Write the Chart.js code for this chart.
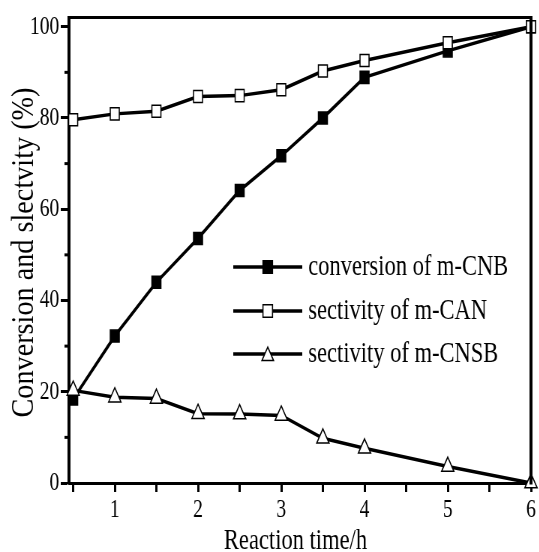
<!DOCTYPE html>
<html>
<head>
<meta charset="utf-8">
<script src="https://cdn.jsdelivr.net/npm/chart.js@4.4.1/dist/chart.umd.min.js"></script>
<style>
html, body { margin: 0; padding: 0; overflow: hidden; background: #fff; width: 539px; height: 552px; }
#wrap { width: 719px; height: 552px; transform: scaleX(0.75); transform-origin: 0 0; }
</style>
</head>
<body>
<div id="wrap"><canvas id="c" width="719" height="552"></canvas></div>
<script>
const times = [0.5, 1, 1.5, 2, 2.5, 3, 3.5, 4, 5, 6];
const conversionCNB = [18.4, 32.2, 44.0, 53.6, 64.1, 71.7, 80.0, 88.9, 94.7, 100];
const selectivityCAN = [79.6, 80.9, 81.5, 84.7, 84.9, 86.2, 90.3, 92.6, 96.5, 100];
const selectivityCNSB = [20.3, 18.8, 18.5, 15.2, 15.1, 14.8, 9.8, 7.6, 3.6, 0];
const seriesNames = ['conversion of m-CNB', 'sectivity of m-CAN', 'sectivity of m-CNSB'];
const xTicks = [0.5, 1, 1.5, 2, 2.5, 3, 3.5, 4, 4.5, 5, 5.5, 6];
const yTicks = [0, 20, 40, 60, 80, 100];
const yMinorTicks = [10, 30, 50, 70, 90];
const xTitle = 'Reaction time/h';
const yTitle = 'Conversion and slectvity (%)';

const FONT = "'Liberation Serif', 'Times New Roman', serif";

function pts(ys) { return times.map((t, i) => ({ x: t, y: ys[i] })); }

function drawMarker(ctx, style, x, y, r, fill) {
  ctx.save();
  ctx.fillStyle = fill;
  ctx.strokeStyle = '#000';
  ctx.lineWidth = 1.5;
  ctx.beginPath();
  if (style === 'rect') {
    const s = Math.SQRT1_2 * r;
    ctx.rect(x - s, y - s, 2 * s, 2 * s);
  } else {
    ctx.moveTo(x, y - r);
    ctx.lineTo(x - r * 0.866, y + r * 0.5);
    ctx.lineTo(x + r * 0.866, y + r * 0.5);
    ctx.closePath();
  }
  ctx.fill();
  ctx.stroke();
  ctx.restore();
}

const extras = {
  id: 'extras',
  afterDraw(chart) {
    const ctx = chart.ctx;
    const a = chart.chartArea;
    const ys = chart.scales.y;
    ctx.save();
    ctx.strokeStyle = '#000';
    // top and right frame
    ctx.lineWidth = 3;
    ctx.beginPath();
    ctx.moveTo(a.left - 2, a.top);
    ctx.lineTo(a.right + 2, a.top);
    ctx.stroke();
    ctx.lineWidth = 4;
    ctx.beginPath();
    ctx.moveTo(a.right, a.top - 1.5);
    ctx.lineTo(a.right, a.bottom + 1.5);
    ctx.stroke();
    // minor y ticks
    ctx.lineWidth = 3;
    yMinorTicks.forEach(v => {
      const py = ys.getPixelForValue(v);
      ctx.beginPath();
      ctx.moveTo(a.left - 6, py);
      ctx.lineTo(a.left, py);
      ctx.stroke();
    });
    // titles
    ctx.fillStyle = '#000';
    ctx.font = '30px ' + FONT;
    ctx.textAlign = 'center';
    ctx.textBaseline = 'alphabetic';
    ctx.fillText(xTitle, (a.left + a.right) / 2 - 6, 549);
    ctx.save();
    ctx.font = '42px ' + FONT;
    const w = ctx.measureText(yTitle).width;
    ctx.translate(44, 252.5);
    ctx.rotate(-Math.PI / 2);
    ctx.scale(330 / w, 1);
    ctx.textAlign = 'center';
    ctx.textBaseline = 'alphabetic';
    ctx.fillText(yTitle, 0, 0);
    ctx.restore();
    // legend
    const rows = [267, 311, 354];
    const styles = [['rect', '#000'], ['rect', '#fff'], ['triangle', '#fff']];
    rows.forEach((ry, i) => {
      ctx.lineWidth = 3.5;
      ctx.beginPath();
      ctx.moveTo(311, ry);
      ctx.lineTo(403, ry);
      ctx.stroke();
      drawMarker(ctx, styles[i][0], 357, ry + (styles[i][0] === 'triangle' ? 2 : 0), 9, styles[i][1]);
      ctx.fillStyle = '#000';
      ctx.font = '30px ' + FONT;
      ctx.textAlign = 'left';
      ctx.textBaseline = 'middle';
      ctx.fillText(seriesNames[i], 411, ry);
    });
    ctx.restore();
  }
};

new Chart(document.getElementById('c'), {
  type: 'line',
  data: {
    datasets: [
      { label: seriesNames[0], data: pts(conversionCNB), borderColor: '#000', borderWidth: 3.5,
        pointStyle: 'rect', pointRadius: 8.5, pointBackgroundColor: '#000', pointBorderColor: '#000', pointBorderWidth: 1.5, order: 3 },
      { label: seriesNames[1], data: pts(selectivityCAN), borderColor: '#000', borderWidth: 3.5,
        pointStyle: 'rect', pointRadius: 8.5, pointBackgroundColor: '#fff', pointBorderColor: '#000', pointBorderWidth: 1.5, order: 2 },
      { label: seriesNames[2], data: pts(selectivityCNSB), borderColor: '#000', borderWidth: 3.5,
        pointStyle: 'triangle', pointRadius: 9.5, pointBackgroundColor: '#fff', pointBorderColor: '#000', pointBorderWidth: 1.5, order: 1 }
    ]
  },
  options: {
    responsive: false,
    animation: false,
    devicePixelRatio: 1,
    clip: false,
    layout: { padding: { top: 16, right: 8, left: 0, bottom: 0 } },
    plugins: { legend: { display: false }, tooltip: { enabled: false } },
    elements: { line: { tension: 0 } },
    scales: {
      x: {
        type: 'linear', min: 0.45, max: 6,
        afterBuildTicks: s => { s.ticks = xTicks.map(v => ({ value: v })); },
        afterFit: s => { s.height = 69; },
        grid: { drawOnChartArea: false, drawTicks: true, tickLength: 9, tickWidth: 3, tickColor: '#000' },
        border: { display: true, color: '#000', width: 3 },
        ticks: {
          color: '#000', padding: 3, maxRotation: 0, autoSkip: false,
          font: { family: FONT, size: 26 },
          callback: v => (Number.isInteger(v) ? String(v) : '')
        }
      },
      y: {
        type: 'linear', min: 0, max: 102,
        afterBuildTicks: s => { s.ticks = yTicks.map(v => ({ value: v })); },
        afterFit: s => { s.width = 92; },
        grid: { drawOnChartArea: false, drawTicks: true, tickLength: 11, tickWidth: 3, tickColor: '#000' },
        border: { display: true, color: '#000', width: 4 },
        ticks: {
          color: '#000', padding: 2,
          font: { family: FONT, size: 26 },
          callback: v => String(v)
        }
      }
    }
  },
  plugins: [extras]
});
</script>
</body>
</html>
